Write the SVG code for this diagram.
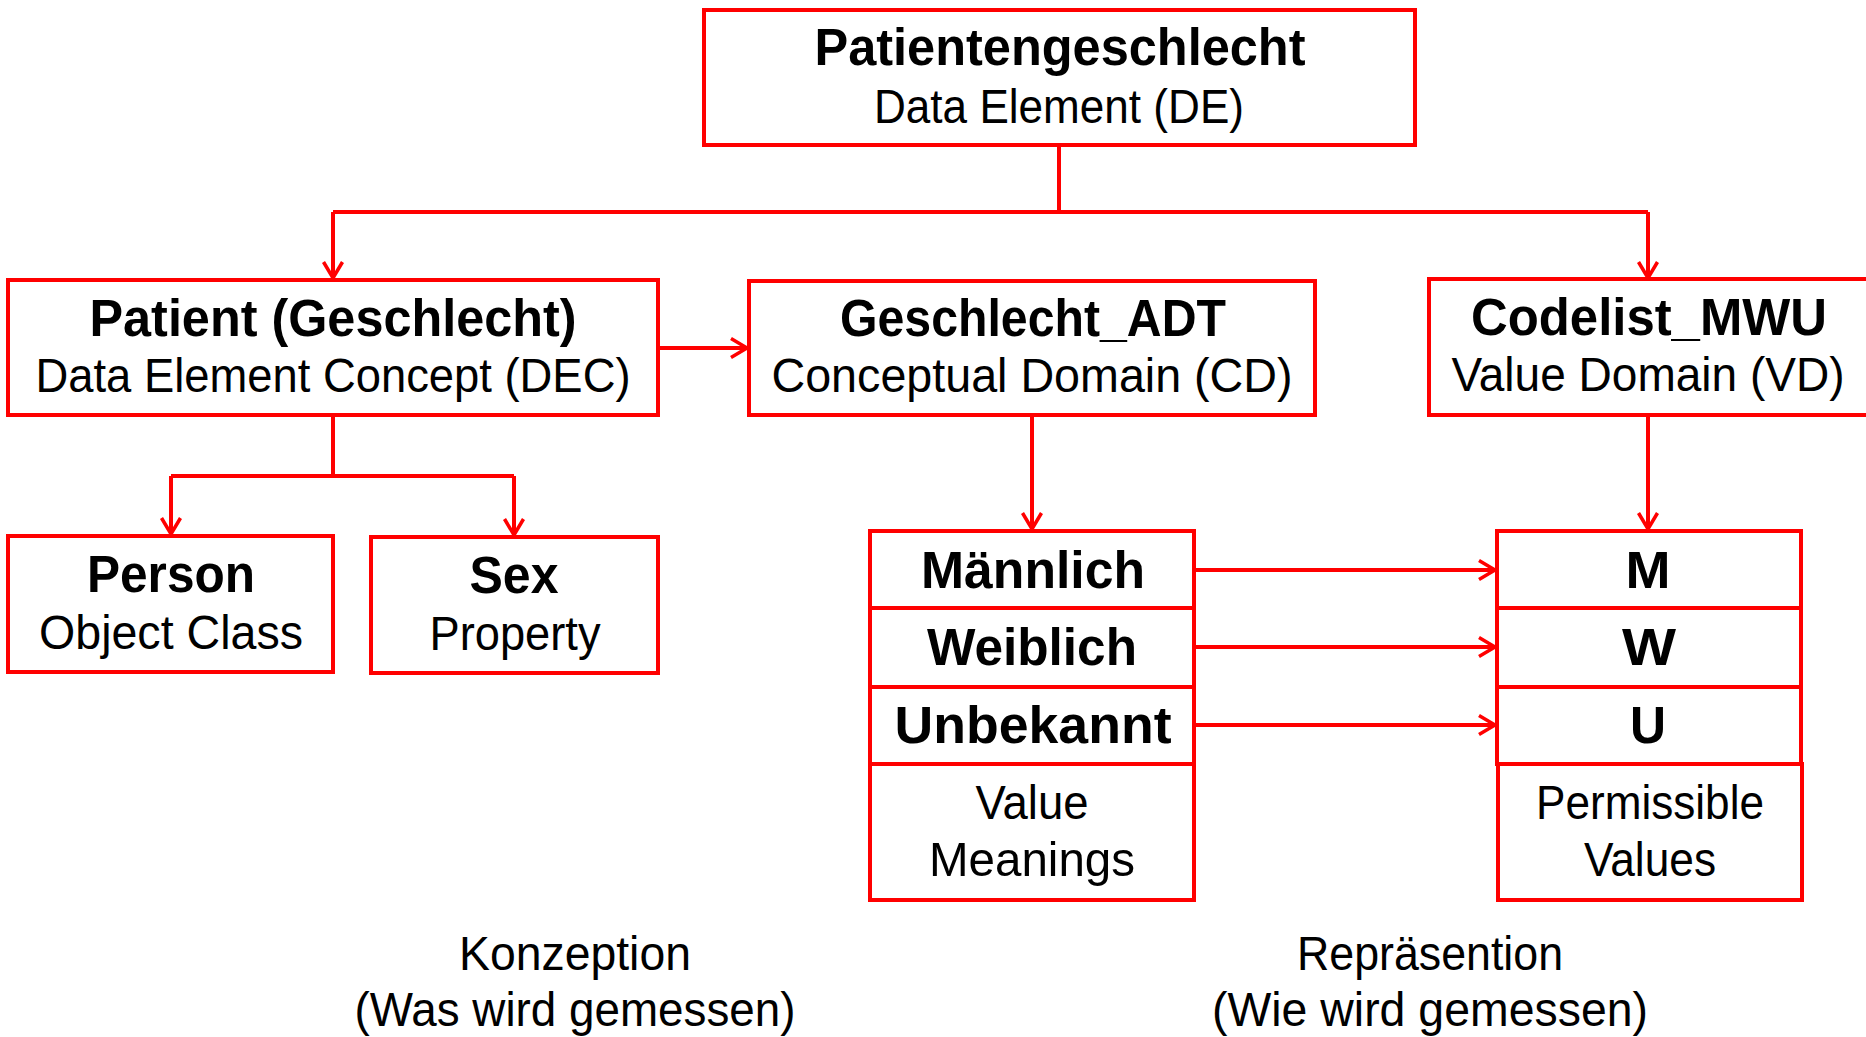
<svg xmlns="http://www.w3.org/2000/svg" width="1866" height="1037" viewBox="0 0 1866 1037">
  <style>
    .box { fill: #ffffff; stroke: #ff0000; stroke-width: 4; }
    .link { fill: none; stroke: #ff0000; stroke-width: 4; }
    text { font-family: "Liberation Sans", Arial, sans-serif; fill: #000000; text-anchor: middle; }
    .b { font-weight: bold; font-size: 51px; }
    .r { font-size: 49px; }
  </style>
  <defs>
    <marker id="arrow" viewBox="0 0 24 24" refX="21" refY="12" markerWidth="24" markerHeight="24" markerUnits="userSpaceOnUse" orient="auto">
      <path d="M5,2.5 L21,12 L5,21.5" fill="none" stroke="#ff0000" stroke-width="3.5"/>
    </marker>
  </defs>

  <!-- connectors -->
  <g id="connectors">
    <path class="link" d="M1059,145 V212"/>
    <path class="link" d="M333,212 H1648"/>
    <path class="link" d="M333,212 V278" marker-end="url(#arrow)"/>
    <path class="link" d="M1648,212 V278" marker-end="url(#arrow)"/>
    <path class="link" d="M658,348 H747" marker-end="url(#arrow)"/>
    <path class="link" d="M333,415 V476 H514"/>
    <path class="link" d="M171,476 H333"/>
    <path class="link" d="M171,476 V534" marker-end="url(#arrow)"/>
    <path class="link" d="M514,476 V535" marker-end="url(#arrow)"/>
    <path class="link" d="M1032,415 V529" marker-end="url(#arrow)"/>
    <path class="link" d="M1648,415 V529" marker-end="url(#arrow)"/>
    <path class="link" d="M1194,570 H1495" marker-end="url(#arrow)"/>
    <path class="link" d="M1194,647 H1495" marker-end="url(#arrow)"/>
    <path class="link" d="M1194,725 H1495" marker-end="url(#arrow)"/>
  </g>

  <!-- data element -->
  <g id="node-de">
    <rect class="box" x="704" y="10" width="711" height="135"/>
    <text class="b" x="1060" y="65" textLength="491" lengthAdjust="spacingAndGlyphs">Patientengeschlecht</text>
    <text class="r" x="1059" y="123" textLength="370" lengthAdjust="spacingAndGlyphs">Data Element (DE)</text>
  </g>

  <!-- data element concept -->
  <g id="node-dec">
    <rect class="box" x="8" y="280" width="650" height="135"/>
    <text class="b" x="333" y="336" textLength="487" lengthAdjust="spacingAndGlyphs">Patient (Geschlecht)</text>
    <text class="r" x="333" y="392" textLength="595" lengthAdjust="spacingAndGlyphs">Data Element Concept (DEC)</text>
  </g>

  <!-- conceptual domain -->
  <g id="node-cd">
    <rect class="box" x="749" y="281" width="566" height="134"/>
    <text class="b" x="1033" y="336" textLength="386" lengthAdjust="spacingAndGlyphs">Geschlecht_ADT</text>
    <text class="r" x="1032" y="392" textLength="521" lengthAdjust="spacingAndGlyphs">Conceptual Domain (CD)</text>
  </g>

  <!-- value domain -->
  <g id="node-vd">
    <rect class="box" x="1429" y="279" width="460" height="136"/>
    <text class="b" x="1649" y="335" textLength="356" lengthAdjust="spacingAndGlyphs">Codelist_MWU</text>
    <text class="r" x="1648" y="391" textLength="393" lengthAdjust="spacingAndGlyphs">Value Domain (VD)</text>
  </g>

  <!-- object class -->
  <g id="node-person">
    <rect class="box" x="8" y="536" width="325" height="136"/>
    <text class="b" x="171" y="592" textLength="168" lengthAdjust="spacingAndGlyphs">Person</text>
    <text class="r" x="171" y="649" textLength="264" lengthAdjust="spacingAndGlyphs">Object Class</text>
  </g>

  <!-- property -->
  <g id="node-sex">
    <rect class="box" x="371" y="537" width="287" height="136"/>
    <text class="b" x="514" y="593" textLength="89" lengthAdjust="spacingAndGlyphs">Sex</text>
    <text class="r" x="515" y="650" textLength="171" lengthAdjust="spacingAndGlyphs">Property</text>
  </g>

  <!-- value meanings -->
  <g id="node-value-meanings">
    <rect class="box" x="870" y="531" width="324" height="77"/>
    <rect class="box" x="870" y="608" width="324" height="79"/>
    <rect class="box" x="870" y="687" width="324" height="77"/>
    <rect class="box" x="870" y="764" width="324" height="136"/>
    <text class="b" x="1033" y="588" textLength="224" lengthAdjust="spacingAndGlyphs">Männlich</text>
    <text class="b" x="1032" y="665" textLength="210" lengthAdjust="spacingAndGlyphs">Weiblich</text>
    <text class="b" x="1033" y="743" textLength="277" lengthAdjust="spacingAndGlyphs">Unbekannt</text>
    <text class="r" x="1032" y="819" textLength="113" lengthAdjust="spacingAndGlyphs">Value</text>
    <text class="r" x="1032" y="876" textLength="206" lengthAdjust="spacingAndGlyphs">Meanings</text>
  </g>

  <!-- permissible values -->
  <g id="node-permissible-values">
    <rect class="box" x="1497" y="531" width="304" height="77"/>
    <rect class="box" x="1497" y="608" width="304" height="79"/>
    <rect class="box" x="1497" y="687" width="304" height="77"/>
    <rect class="box" x="1498" y="764" width="304" height="136"/>
    <text class="b" x="1648" y="588" textLength="45" lengthAdjust="spacingAndGlyphs">M</text>
    <text class="b" x="1649" y="665" textLength="54" lengthAdjust="spacingAndGlyphs">W</text>
    <text class="b" x="1648" y="743" textLength="36" lengthAdjust="spacingAndGlyphs">U</text>
    <text class="r" x="1650" y="819" textLength="228" lengthAdjust="spacingAndGlyphs">Permissible</text>
    <text class="r" x="1650" y="876" textLength="132" lengthAdjust="spacingAndGlyphs">Values</text>
  </g>

  <!-- column captions -->
  <g id="caption-konzeption">
    <text class="r" x="575" y="970" textLength="232" lengthAdjust="spacingAndGlyphs">Konzeption</text>
    <text class="r" x="575" y="1026" textLength="441" lengthAdjust="spacingAndGlyphs">(Was wird gemessen)</text>
  </g>
  <g id="caption-repraesentation">
    <text class="r" x="1430" y="970" textLength="266" lengthAdjust="spacingAndGlyphs">Repräsention</text>
    <text class="r" x="1430" y="1026" textLength="436" lengthAdjust="spacingAndGlyphs">(Wie wird gemessen)</text>
  </g>
</svg>
